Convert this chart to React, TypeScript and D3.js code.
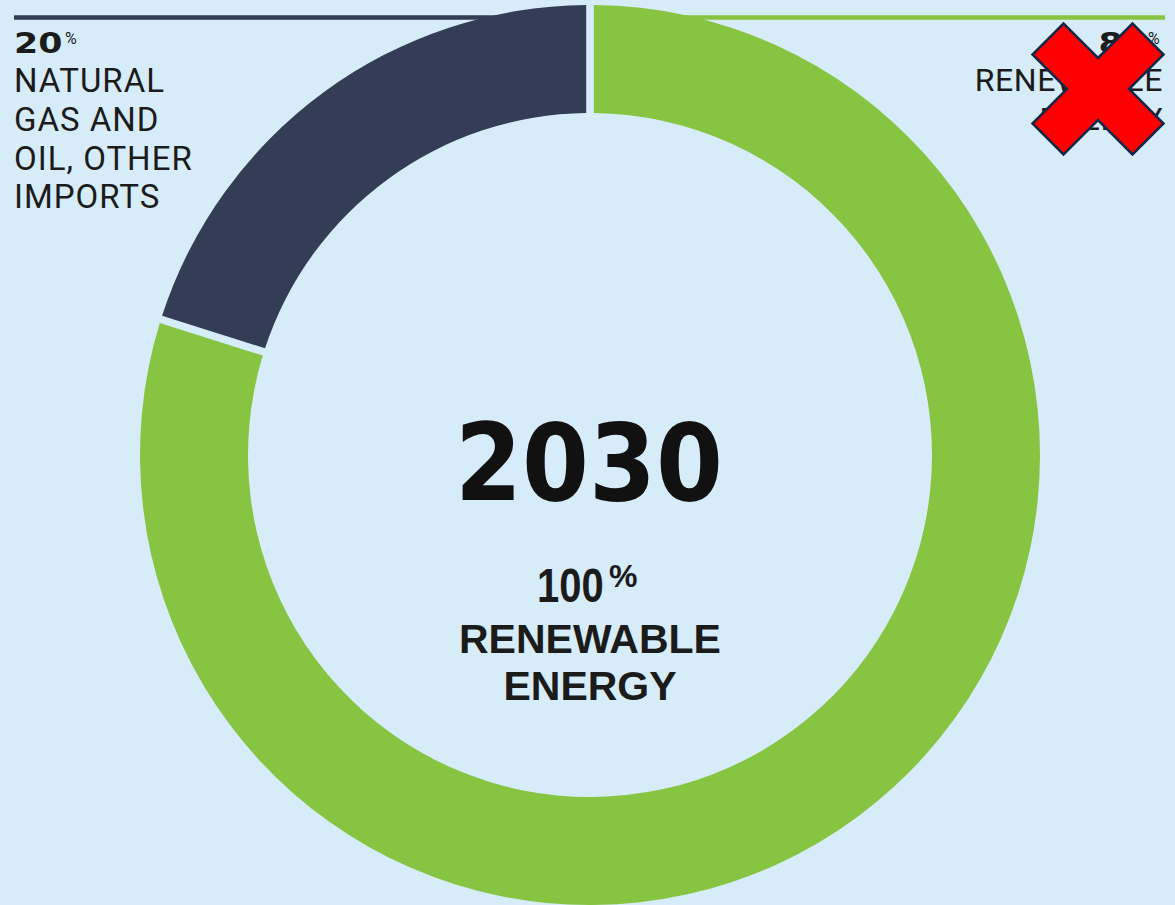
import React from "react";
import * as d3 from "d3";

const categories = ["Renewable energy", "Natural gas and oil, other imports"];
const values = [80, 20];
const colors = ["#86c441", "#333d55"];
const centerYear = "2030";
const centerValue = "100";
const centerLines = ["RENEWABLE", "ENERGY"];
const leftValue = "20";
const leftLines = ["NATURAL", "GAS AND", "OIL, OTHER", "IMPORTS"];
const rightValue = "80";
const rightLines = ["RENEWABLE", "ENERGY"];

const W = 1175;
const H = 905;

export default function App() {
  const cx = 590;
  const cy = 455;
  const outerR = 450;
  const innerR = 342;

  const pie = d3
    .pie<number>()
    .sort(null)
    .value((d) => d)
    .padAngle(0.0135);
  const arcs = pie(values);
  const arc = d3
    .arc<d3.PieArcDatum<number>>()
    .innerRadius(innerR)
    .outerRadius(outerR);

  // red cross overlay
  const xc = 1098,
    yc = 89,
    ci = 31,
    cs = 34.5;
  const crossPts: [number, number][] = [
    [0, -ci],
    [cs, -(cs + ci)],
    [cs + ci, -cs],
    [ci, 0],
    [cs + ci, cs],
    [cs, cs + ci],
    [0, ci],
    [-cs, cs + ci],
    [-(cs + ci), cs],
    [-ci, 0],
    [-(cs + ci), -cs],
    [-cs, -(cs + ci)],
  ];
  const crossPath =
    d3.line()(crossPts.map(([x, y]) => [xc + x, yc + y]))! + "Z";

  const labelFont = "Roboto, 'DejaVu Sans', sans-serif";
  const textColor = "#1b1b1b";

  return (
    <svg
      width={W}
      height={H}
      viewBox={`0 0 ${W} ${H}`}
      style={{ position: "absolute", left: 0, top: 0, display: "block" }}
    >
      <rect x={0} y={0} width={W} height={H} fill="#d7ecf9" />
      {/* top rules */}
      <line x1={14} x2={585} y1={17.5} y2={17.5} stroke={colors[1]} strokeWidth={4.5} />
      <line x1={594} x2={1165} y1={17.5} y2={17.5} stroke={colors[0]} strokeWidth={4.5} />

      <g transform={`translate(${cx},${cy})`}>
        {arcs.map((a, i) => (
          <path key={categories[i]} d={arc(a)!} fill={colors[i]} />
        ))}
      </g>

      {/* left label */}
      <text
        transform="translate(14,53) scale(1.2,1)"
        fontFamily="'DejaVu Sans', sans-serif"
        fontWeight={700}
        fontSize={29}
        fill={textColor}
      >
        {leftValue}
      </text>
      <text x={65} y={44} fontFamily={labelFont} fontSize={16} fill={textColor}>
        %
      </text>
      {leftLines.map((l, i) => (
        <text
          key={l}
          x={14}
          y={92 + i * 38.8}
          fontFamily={labelFont}
          fontSize={33}
          letterSpacing={1}
          fill={textColor}
        >
          {l}
        </text>
      ))}

      {/* right label */}
      <text
        transform="translate(1147,53) scale(1.2,1)"
        textAnchor="end"
        fontFamily="'DejaVu Sans', sans-serif"
        fontWeight={700}
        fontSize={29}
        fill={textColor}
      >
        {rightValue}
      </text>
      <text x={1148} y={44} fontFamily={labelFont} fontSize={16} fill={textColor}>
        %
      </text>
      {rightLines.map((l, i) => (
        <text
          key={l}
          x={1163}
          y={91 + i * 39}
          textAnchor="end"
          fontFamily={labelFont}
          fontSize={32}
          letterSpacing={0.6}
          fill={textColor}
        >
          {l}
        </text>
      ))}

      {/* centre */}
      <text
        x={cx - 1}
        y={500}
        textAnchor="middle"
        fontFamily="'DejaVu Sans', sans-serif"
        fontWeight={700}
        fontSize={107}
        fill="#111111"
        textLength={268}
        lengthAdjust="spacingAndGlyphs"
      >
        {centerYear}
      </text>
      <text
        transform="translate(537,602) scale(1,1.2)"
        fontFamily="'Liberation Sans', Arial, sans-serif"
        fontWeight={700}
        fontSize={40}
        fill={textColor}
      >
        {centerValue}
      </text>
      <text
        x={609}
        y={587}
        fontFamily="'Liberation Sans', Arial, sans-serif"
        fontWeight={700}
        fontSize={32}
        fill={textColor}
      >
        %
      </text>
      {centerLines.map((l, i) => (
        <text
          key={l}
          x={cx}
          y={653 + i * 47}
          textAnchor="middle"
          fontFamily="'Liberation Sans', Arial, sans-serif"
          fontWeight={700}
          fontSize={41}
          fill={textColor}
        >
          {l}
        </text>
      ))}

      <path d={crossPath} fill="#ff0000" stroke="#12294a" strokeWidth={2.5} strokeLinejoin="miter" />
    </svg>
  );
}
